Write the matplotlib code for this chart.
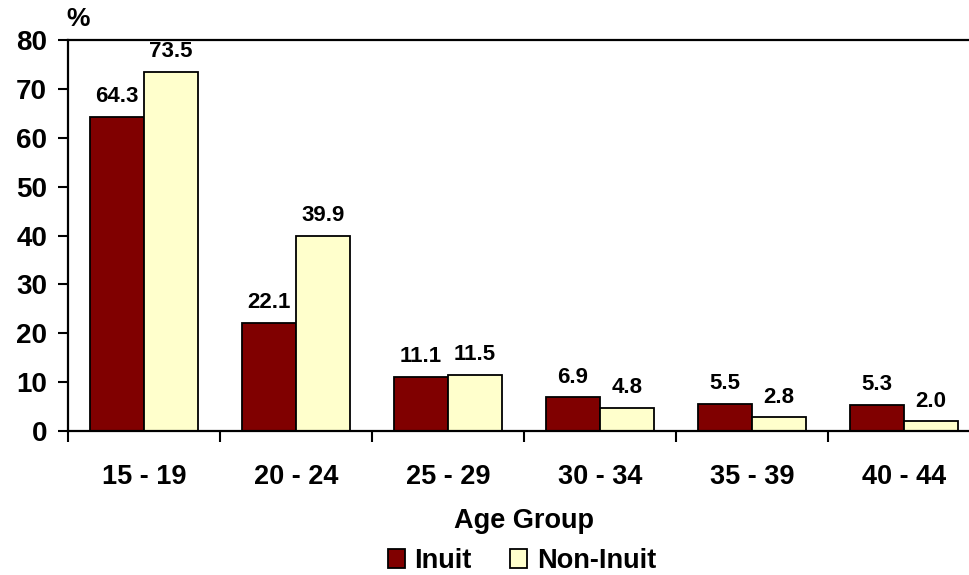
import numpy as np
import matplotlib
matplotlib.use("Agg")
import matplotlib.pyplot as plt
from matplotlib.ticker import FixedLocator

plt.rcParams['font.family'] = ['Liberation Sans', 'DejaVu Sans']
plt.rcParams['font.weight'] = 'bold'

age_groups = ['15 - 19', '20 - 24', '25 - 29', '30 - 34', '35 - 39', '40 - 44']
inuit = [64.3, 22.1, 11.1, 6.9, 5.5, 5.3]
non_inuit = [73.5, 39.9, 11.5, 4.8, 2.8, 2.0]


def main():
    fig = plt.figure(figsize=(9.7, 5.75), dpi=100)
    ax = fig.add_axes([68 / 970, 144 / 575, 912 / 970, 391 / 575])

    x = np.arange(len(age_groups))
    w = 0.355
    b1 = ax.bar(x - w / 2, inuit, w, color='#800000', edgecolor='black',
                linewidth=1.3, label='Inuit')
    b2 = ax.bar(x + w / 2, non_inuit, w, color='#FFFFCC', edgecolor='black',
                linewidth=1.3, label='Non-Inuit')

    for bars, vals in ((b1, inuit), (b2, non_inuit)):
        for rect, v in zip(bars, vals):
            ax.annotate('%.1f' % v, (rect.get_x() + rect.get_width() / 2, v),
                        xytext=(0, 7), textcoords='offset points',
                        ha='center', va='bottom', fontsize=16, fontweight='bold')

    ax.set_xlim(-0.5, len(age_groups) - 0.5)
    ax.set_ylim(0, 80)
    ax.set_yticks(range(0, 81, 10))
    ax.set_xticks(x)
    ax.set_xticklabels(age_groups)
    ax.xaxis.set_minor_locator(FixedLocator(np.arange(-0.5, len(age_groups), 1.0)))
    ax.tick_params(axis='x', which='major', length=0, pad=24, labelsize=19.5)
    ax.tick_params(axis='x', which='minor', length=8, width=1.5, direction='out')
    ax.tick_params(axis='y', length=7, width=1.5, direction='out', labelsize=20, pad=8)

    for side in ('left', 'bottom', 'top'):
        ax.spines[side].set_linewidth(1.6)
    ax.spines['right'].set_visible(False)

    ax.set_xlabel('Age Group', fontsize=19.5, fontweight='bold', labelpad=13)
    fig.text(66 / 970, 1 - 19 / 575, '%', fontsize=19, fontweight='bold',
             ha='left', va='center')

    fig.legend(handles=[b1, b2], loc='center', ncol=2, frameon=False,
               fontsize=19.5, handlelength=0.65, handleheight=0.65,
               handletextpad=0.35, columnspacing=1.4, borderpad=0.1,
               borderaxespad=0, bbox_to_anchor=(0.538, 1 - 561 / 575))

    fig.savefig('out.png', dpi=100)


if __name__ == '__main__':
    main()
